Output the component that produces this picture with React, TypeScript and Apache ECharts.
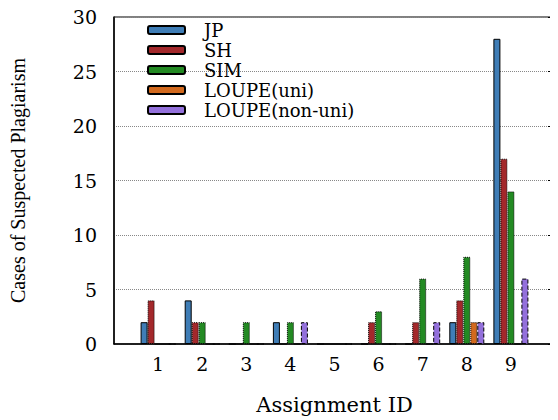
import React, { useEffect, useRef } from "react";
import * as echarts from "echarts";

const categories = ["1", "2", "3", "4", "5", "6", "7", "8", "9"];
const seriesNames = ["JP", "SH", "SIM", "LOUPE(uni)", "LOUPE(non-uni)"];
const jp = [2, 4, 0, 2, 0, 0, 0, 2, 28];
const sh = [4, 2, 0, 0, 0, 2, 2, 4, 17];
const sim = [0, 2, 2, 2, 0, 3, 6, 8, 14];
const loupeUni = [0, 0, 0, 0, 0, 0, 0, 2, 0];
const loupeNonUni = [0, 0, 0, 2, 0, 0, 2, 2, 6];
const yTicks = [0, 5, 10, 15, 20, 25, 30];

const colors = ["#3f7db6", "#a3282b", "#238a23", "#d2691e", "#9370db"];
const borderTypes = ["solid", "dotted", "dotted", "dotted", "dashed"];
const allValues = [jp, sh, sim, loupeUni, loupeNonUni];

export default function App() {
  const ref = useRef<HTMLDivElement>(null);
  useEffect(() => {
    if (!ref.current) return;
    const chart = echarts.init(ref.current, null, { renderer: "svg" });
    const xData = ["", ...categories, ""];
    const serif = "DejaVu Serif";
    chart.setOption({
      animation: false,
      backgroundColor: "#ffffff",
      grid: {
        left: 114,
        right: 0,
        top: 17,
        bottom: 74,
        show: true,
        borderColor: "#000",
        borderWidth: 1,
      },
      legend: {
        orient: "vertical",
        left: 147,
        top: 20,
        itemWidth: 37,
        itemHeight: 8,
        itemGap: 0,
        padding: 0,
        data: seriesNames,
        textStyle: {
          fontFamily: serif,
          fontSize: 18,
          color: "#000",
          lineHeight: 20,
          padding: [0, 0, 0, 14],
        },
      },
      xAxis: {
        type: "category",
        data: xData,
        boundaryGap: false,
        axisLine: { lineStyle: { color: "#000", width: 1.5 } },
        axisTick: { show: false },
        axisLabel: {
          fontFamily: serif,
          fontSize: 19,
          color: "#000",
          margin: 10,
          interval: 0,
        },
        splitLine: { show: false },
        name: "Assignment ID",
        nameLocation: "middle",
        nameGap: 50,
        nameTextStyle: { fontFamily: serif, fontSize: 21, color: "#000" },
      },
      yAxis: [
        {
          type: "value",
          min: yTicks[0],
          max: yTicks[yTicks.length - 1],
          interval: 5,
          axisLine: { show: true, lineStyle: { color: "#000", width: 1.5 } },
          axisTick: { show: false },
          axisLabel: {
            fontFamily: serif,
            fontSize: 19,
            color: "#000",
            margin: 17,
          },
          splitLine: {
            show: true,
            lineStyle: { color: "#888", type: [1, 1], width: 1 },
          },
          name: "Cases of Suspected Plagiarism",
          nameLocation: "middle",
          nameGap: 86,
          nameTextStyle: {
            fontFamily: "Liberation Serif",
            fontSize: 20,
            color: "#000",
          },
        },
        {
          type: "value",
          position: "right",
          min: yTicks[0],
          max: yTicks[yTicks.length - 1],
          interval: 5,
          axisLine: { show: false },
          axisTick: {
            show: true,
            inside: true,
            length: 7,
            lineStyle: { color: "#000" },
          },
          axisLabel: { show: false },
          splitLine: { show: false },
        },
      ],
      series: seriesNames.map((name, i) => ({
        name,
        type: "bar",
        yAxisIndex: 0,
        barWidth: 7,
        barGap: "0%",
        data: [null, ...allValues[i], null],
        itemStyle: {
          color: colors[i],
          borderColor: "#000",
          borderWidth: 1,
          borderType: borderTypes[i],
        },
      })),
    });
    return () => chart.dispose();
  }, []);
  return <div ref={ref} style={{ width: 558, height: 420, marginLeft: -8, marginTop: -8 }} />;
}
